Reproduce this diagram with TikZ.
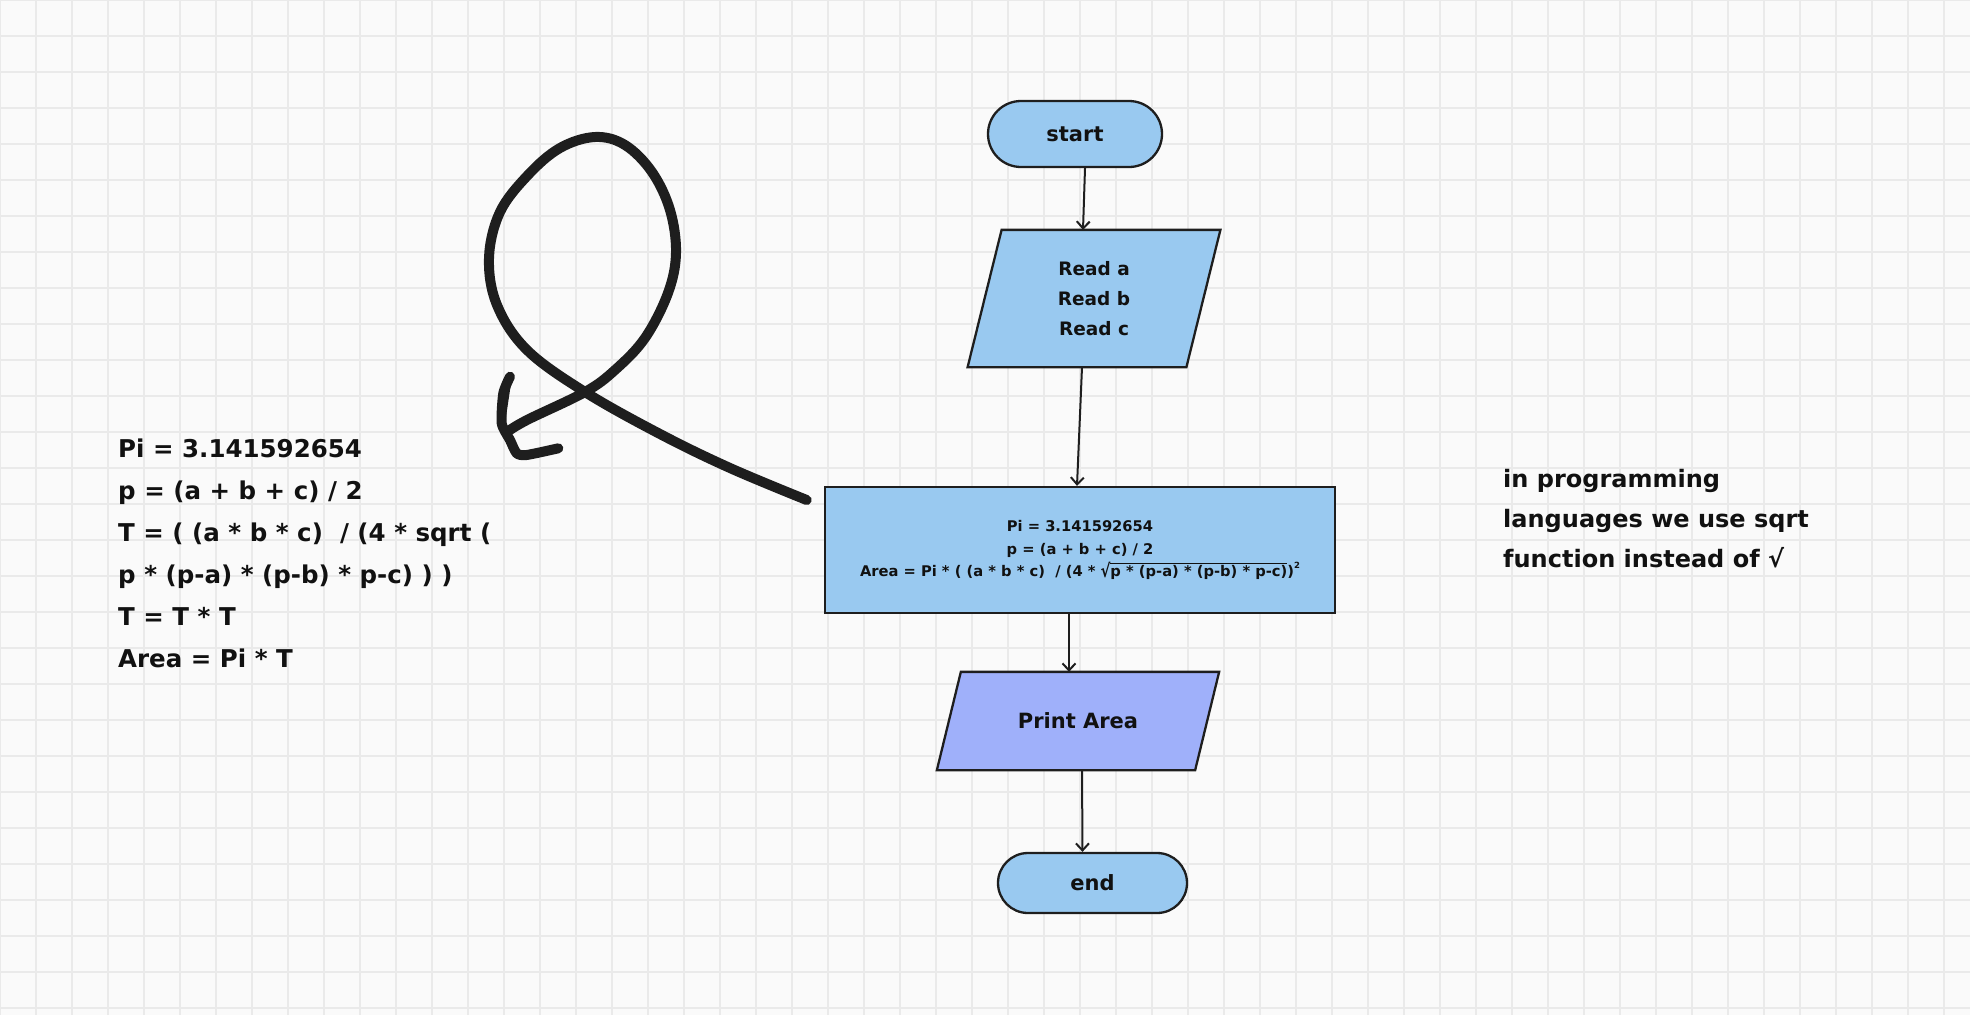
\documentclass[tikz,border=0pt]{standalone}
\usepackage{fontspec}
\usepackage{graphicx}
\setmainfont{DejaVu Sans}
\usetikzlibrary{arrows.meta}
\definecolor{bg}{HTML}{FAFAFA}
\definecolor{gridc}{HTML}{EAEAEA}
\definecolor{boxblue}{HTML}{99C9F0}
\definecolor{boxviolet}{HTML}{9FB0FA}
\definecolor{ink}{HTML}{1E1E1E}
\definecolor{txt}{HTML}{111111}
\newcommand\radtext[1]{\setbox0=\hbox{#1}\raisebox{-0.08em}{\scalebox{1}[1.25]{√}}\rlap{\rule[0.84em]{\wd0}{1.2pt}}\box0}
\begin{document}
\begin{tikzpicture}[x=1pt,y=-1pt,
  gridline/.style={draw=gridc, line width=1.5pt},
  term/.style={draw=ink, line width=2.3pt, fill=boxblue, inner sep=0pt, text=txt,
    font=\bfseries\fontsize{21}{25}\selectfont},
  iobody/.style={rectangle, inner sep=0pt, outer sep=1.15pt, text=txt},
  ioshape/.style={draw=ink, line width=2.3pt, line join=miter},
  procbox/.style={rectangle, draw=ink, line width=2.3pt, fill=boxblue, inner sep=0pt, text=txt},
  flow/.style={draw=ink, line width=2pt, -{Straight Barb[length=7pt,width=13pt,line width=2pt]}},
  note/.style={anchor=north west, inner sep=0pt, align=left, text=txt},
  scribble/.style={draw=ink, line width=10pt, line cap=round, line join=round}
]
\useasboundingbox (0,0) rectangle (1970,1015);
\fill[bg] (0,0) rectangle (1970,1015);
\foreach \i in {0,...,54} \draw[gridline] (36*\i,0) -- (36*\i,1015);
\foreach \j in {0,...,28} \draw[gridline] (0,36*\j) -- (1970,36*\j);

% flowchart nodes
\node[term, rounded corners=33pt, minimum width=174pt, minimum height=66pt] (start) at (1075,134) {start};

\node[iobody, minimum width=216.5pt, minimum height=135pt] (read) at (1094,298.5) {};
\filldraw[ioshape, fill=boxblue] ([xshift=17pt]read.north west) -- ([xshift=17pt]read.north east)
  -- ([xshift=-17pt]read.south east) -- ([xshift=-17pt]read.south west) -- cycle;
\node[align=center, inner sep=0pt, text=txt, font=\bfseries\fontsize{18.5}{30}\selectfont] (readtxt) at (read.center) {Read a\\Read b\\Read c};

\node[procbox, minimum width=510pt, minimum height=126pt, align=center,
  font=\bfseries\fontsize{14.7}{22.5}\selectfont] (proc) at (1080,550)
  {Pi = 3.141592654\\p = (a + b + c) / 2\\Area = Pi * ( (a * b * c)\ \ / (4 * \radtext{p * (p-a) * (p-b) * p-c)} )\raisebox{0.55em}{\fontsize{8.5}{9}\selectfont 2}};

\node[iobody, minimum width=256pt, minimum height=96pt] (print) at (1078,721) {};
\filldraw[ioshape, fill=boxviolet] ([xshift=12pt]print.north west) -- ([xshift=12pt]print.north east)
  -- ([xshift=-12pt]print.south east) -- ([xshift=-12pt]print.south west) -- cycle;
\node[inner sep=0pt, text=txt, font=\bfseries\fontsize{21}{25}\selectfont] (printtxt) at (print.center) {Print Area};

\node[term, rounded corners=30pt, minimum width=189pt, minimum height=60pt] (end) at (1092.5,883) {end};

% connectors
\draw[flow] ([xshift=10pt]start.south) -- ([xshift=-11pt]read.north);
\draw[flow] ([xshift=-12pt]read.south) -- ([xshift=-3pt]proc.north);
\draw[flow] ([xshift=-11pt]proc.south) -- ([xshift=-9pt]print.north);
\draw[flow] ([xshift=4pt]print.south) -- ([xshift=-10pt]end.north);

% side notes
\node[note, font=\bfseries\fontsize{24.5}{42}\selectfont] (formulas) at (118,438.5)
  {Pi = 3.141592654\\p = (a + b + c) / 2\\T = ( (a * b * c)\ \ / (4 * sqrt (\\p * (p-a) * (p-b) * p-c) ) )\\T = T * T\\Area = Pi * T};
\node[note, font=\bfseries\fontsize{24}{40}\selectfont] (remark) at (1503,469)
  {in programming\\languages we use sqrt\\function instead of √};

% hand-drawn loop arrow
\draw[scribble] plot[smooth, tension=0.6] coordinates {
  (806.7,500) (730,468) (660,434) (585,392) (527,350) (497,305) (489,258) (500,212)
  (528,175) (560,148) (595,137) (625,145) (652,172) (670,210) (676,253) (668,293)
  (645,338) (615,370) (585,392) (527,420) (507,432)};
\draw[scribble] plot[smooth, tension=0.4] coordinates {
  (510,376.7) (503.3,393.3) (501.7,423.3) (510,440) (516.7,453.3) (526.7,455) (558.3,448.3)};
\draw[ink, line width=5pt, line cap=round] (509,380) -- (503,420);
\end{tikzpicture}
\end{document}
